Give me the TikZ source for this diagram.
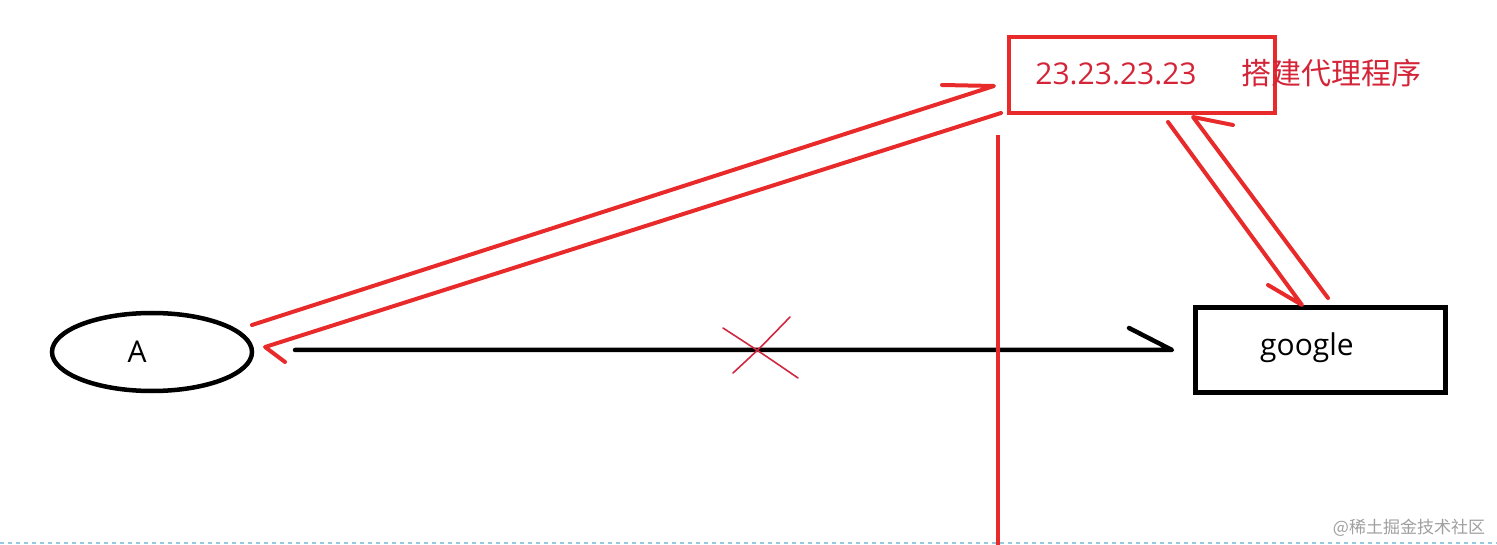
\documentclass[tikz,border=0pt]{standalone}
\usepackage{fontspec}
\setmainfont{Open Sans}
\newfontfamily\cjk{Noto Sans CJK SC}
\usetikzlibrary{shapes.geometric,calc}
\definecolor{penred}{RGB}{232,42,42}
\definecolor{inkred}{RGB}{212,36,56}
\definecolor{crossred}{RGB}{208,40,64}
\definecolor{dotblue}{RGB}{150,200,225}
\begin{document}
\begin{tikzpicture}[x=1pt,y=-1pt,
                    every node/.style={inner sep=0pt},
                    redpen/.style={draw=penred, line width=4pt, line cap=round, line join=round},
                    blackpen/.style={draw=black, line width=4.5pt, line cap=round, line join=round},
                    bigtext/.style={font=\fontsize{30}{36}\selectfont}]
\useasboundingbox (0,0) rectangle (1497,545);
\node[ellipse, draw, line width=4.5pt, minimum width=200pt, minimum height=78pt] (hostA) at (152,352) {};
\node[bigtext] (hostAtxt) at (137,352) {A};
\node[draw, line width=5pt, minimum width=250pt, minimum height=85pt] (google) at (1320,350) {};
\node[bigtext] (googletxt) at (1307,348) {google};
\node[draw=penred, line width=4pt, minimum width=266pt, minimum height=76pt] (proxy) at (1142,75) {};
\node[bigtext, text=inkred] (iptxt) at (1116,74) {23.23.23.23};
\node[text=inkred, font=\cjk\fontsize{30}{36}\selectfont] (proxytxt) at (1331,73) {搭建代理程序};
\node[text=gray!75, font=\cjk\fontsize{17}{20}\selectfont] (mark) at (1409,528) {@稀土掘金技术社区};
\coordinate (aOut) at (252,325);
\coordinate (aIn) at (265,347);
\coordinate (pIn) at (994,86);
\coordinate (pOut) at (1001,113);
\coordinate (pDown) at (1168,122);
\coordinate (pUp) at (1193,117);
\coordinate (gIn) at (1302,305);
\coordinate (gOut) at (1328,298);
\coordinate (wallTop) at (998,135);
\coordinate (wallBot) at (998,545);
\draw[blackpen] (295,350) -- (1172,350) -- ++(-43,-22);
\draw[redpen] (aOut) -- (pIn) -- ++(-52,-1);
\draw[redpen] (pOut) -- (aIn) -- ++(20,15);
\draw[redpen] (pDown) -- (gIn) -- ++(-34,-20);
\draw[redpen] (gOut) -- (pUp) -- ++(40,8);
\draw[redpen, line cap=butt] (wallTop) -- (wallBot);
\draw[crossred, line width=1.6pt, line cap=round] (723,328) .. controls (760,352) .. (798,378);
\draw[crossred, line width=1.6pt, line cap=round] (790,317) .. controls (760,348) .. (733,373);
\draw[dotblue, line width=2pt, dash pattern=on 4pt off 4pt] (0,543) -- (1497,543);
\end{tikzpicture}
\end{document}
